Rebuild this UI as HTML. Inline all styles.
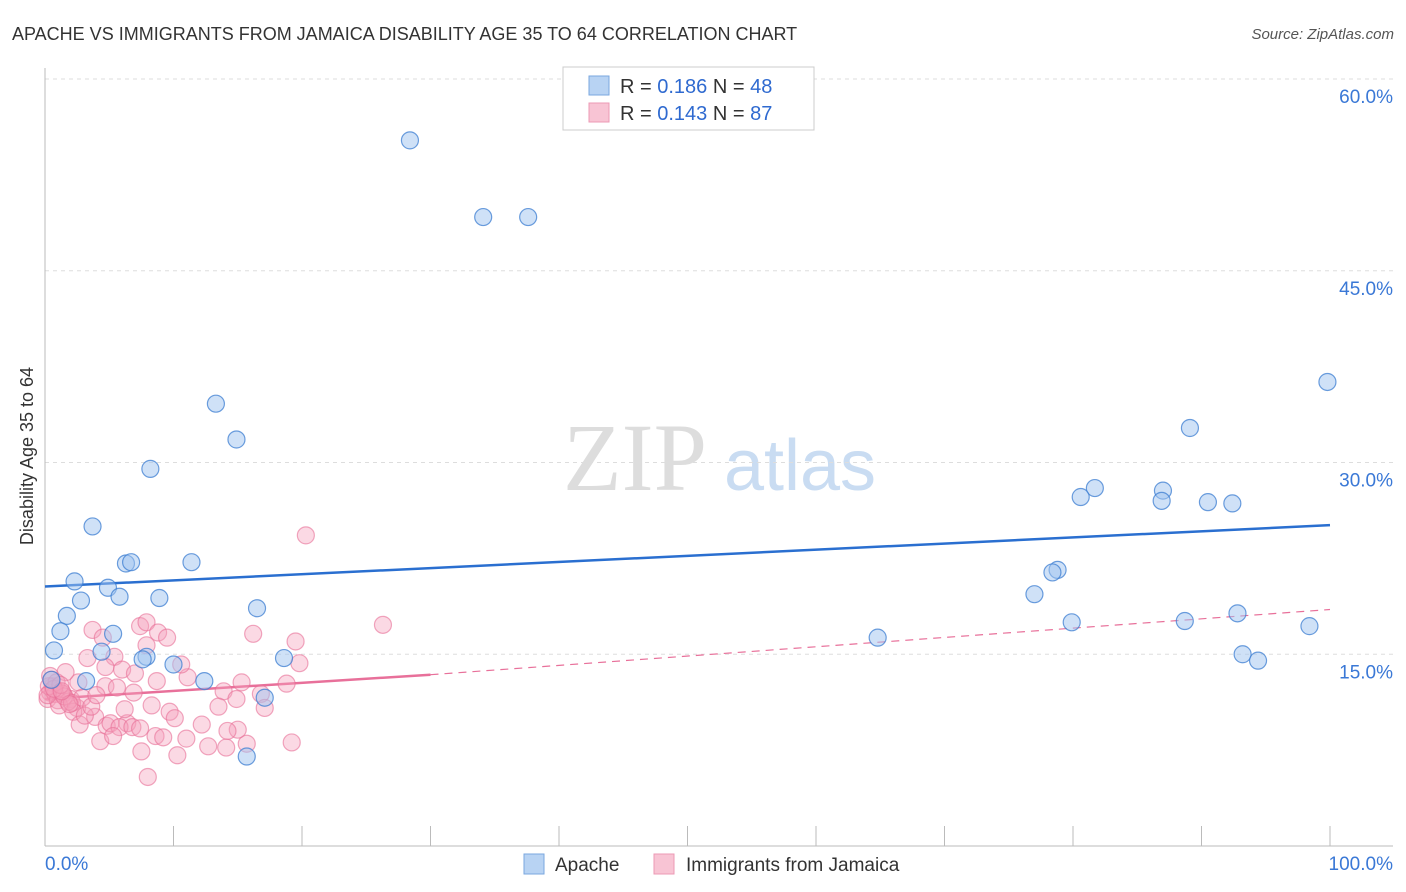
<!DOCTYPE html>
<html><head><meta charset="utf-8"><style>
body{margin:0;background:#fff;font-family:"Liberation Sans",sans-serif}
svg{display:block}
</style></head><body>
<svg id="chart" width="1406" height="892">
<text x="12" y="40" font-size="18" fill="#333">APACHE VS IMMIGRANTS FROM JAMAICA DISABILITY AGE 35 TO 64 CORRELATION CHART</text>
<text x="1394" y="39" font-size="15" fill="#555" font-style="italic" text-anchor="end">Source: ZipAtlas.com</text>
<text transform="translate(33,456) rotate(-90)" font-size="18" fill="#333" text-anchor="middle">Disability Age 35 to 64</text>
<g><text x="635" y="490" font-size="96" font-family="Liberation Serif" fill="#ddd" text-anchor="middle">ZIP</text><text x="800" y="490" font-size="72" fill="#c9dcf2" text-anchor="middle">atlas</text></g>
<g id="grid"></g><g id="axes"></g><g id="trend"></g><g id="pts"></g>
<g>
<rect x="563" y="67" width="251" height="63" fill="#fff" stroke="#ccc"/>
<rect x="589" y="76" width="20" height="19" fill="#b8d3f3" stroke="#7aa7df"/>
<rect x="589" y="103" width="20" height="19" fill="#f8c4d4" stroke="#ec9ab5"/>
<text x="620" y="93" font-size="20" fill="#333">R = <tspan fill="#2f6ad0">0.186</tspan>   N = <tspan fill="#2f6ad0">48</tspan></text>
<text x="620" y="120" font-size="20" fill="#333">R = <tspan fill="#2f6ad0">0.143</tspan>   N = <tspan fill="#2f6ad0">87</tspan></text>
</g>
<g>
<rect x="524" y="854" width="20" height="20" fill="#b8d3f3" stroke="#7aa7df"/>
<text x="555" y="871" font-size="19" fill="#333">Apache</text>
<rect x="654" y="854" width="20" height="20" fill="#f8c4d4" stroke="#ec9ab5"/>
<text x="686" y="871" font-size="19" fill="#333">Immigrants from Jamaica</text>
</g>
</svg>
<script>
const yTicks=[15,30,45,60];
const xTickLabels=["0.0%","100.0%"];
const blueX=[28.4,34.1,37.6,13.3,14.9,8.2,3.7,6.3,6.7,11.4,2.3,4.9,2.8,5.8,8.9,1.7,16.5,1.2,5.3,0.7,4.4,7.9,7.6,10.0,12.4,18.6,17.1,15.7,3.2,99.8,89.1,81.7,80.6,87.0,86.9,90.5,92.4,78.8,78.4,77.0,79.9,64.8,88.7,92.8,98.4,93.2,94.4,0.5];
const blueY=[55.2,49.2,49.2,34.6,31.8,29.5,25.0,22.1,22.2,22.2,20.7,20.2,19.2,19.5,19.4,18.0,18.6,16.8,16.6,15.3,15.2,14.8,14.6,14.2,12.9,14.7,11.6,7.0,12.9,36.3,32.7,28.0,27.3,27.8,27.0,26.9,26.8,21.6,21.4,19.7,17.5,16.3,17.6,18.2,17.2,15.0,14.5,13.0];
const pinkX=[20.3,16.2,19.5,19.8,18.8,19.2,15.7,15.0,14.2,14.1,12.7,10.3,11.0,8.0,7.5,9.7,8.7,11.1,10.6,13.9,15.3,14.9,16.8,17.1,3.7,4.5,7.4,7.9,8.8,9.5,7.9,3.3,5.4,4.7,6.0,7.0,4.7,5.6,6.9,2.6,1.6,0.6,0.4,1.2,2.0,2.5,2.2,2.7,3.9,4.8,6.4,5.1,5.8,6.8,7.4,8.6,9.2,4.3,5.3,0.4,0.2,0.6,0.8,1.0,1.4,1.8,0.3,0.9,1.1,1.5,2.1,2.9,3.1,3.6,26.3,0.2,0.7,1.2,1.9,4.0,6.2,8.3,10.1,12.2,13.5,0.5,1.3];
const pinkY=[24.3,16.6,16.0,14.3,12.7,8.1,8.0,9.1,9.0,7.7,7.8,7.1,8.4,5.4,7.4,10.5,12.9,13.2,14.2,12.1,12.8,11.5,11.9,10.8,16.9,16.3,17.2,17.5,16.7,16.3,15.7,14.7,14.8,14.0,13.8,13.5,12.5,12.4,12.0,12.8,13.6,12.5,13.3,12.0,11.5,10.8,10.5,9.5,10.1,9.4,9.6,9.6,9.3,9.3,9.2,8.6,8.5,8.2,8.6,12.0,11.5,12.2,11.9,11.4,11.9,11.3,12.5,12.8,11.0,11.7,11.2,11.6,10.2,10.9,17.3,11.8,12.3,12.6,11.1,11.8,10.7,11.0,10.0,9.5,10.9,13.0,12.1];
const X0=45,X1=1330,Y0=846,Y60=79;
const sx=v=>X0+(X1-X0)*v/100, sy=v=>Y0-(Y0-Y60)*v/60;
const NS="http://www.w3.org/2000/svg";
function mk(t,a,p){const e=document.createElementNS(NS,t);for(const k in a)e.setAttribute(k,a[k]);p.appendChild(e);return e;}
const grid=document.getElementById('grid'),axes=document.getElementById('axes'),tr=document.getElementById('trend'),pts=document.getElementById('pts');
yTicks.forEach(v=>{const l=mk('line',{x1:45,x2:1393,y1:sy(v),y2:sy(v),stroke:'#ddd','stroke-dasharray':'4,4'},grid);


const t=mk('text',{x:1393,y:sy(v)+24,'font-size':19,fill:'#3a78d6','text-anchor':'end'},grid);t.textContent=v.toFixed(1)+'%';

});
const ax=mk('line',{x1:45,x2:45,y1:68,y2:846,stroke:'#bbb'},axes);


const bx=mk('line',{x1:45,x2:1393,y1:846,y2:846,stroke:'#bbb'},axes);


for(let i=0;i<=10;i++){const l=mk('line',{x1:sx(i*10),x2:sx(i*10),y1:826,y2:846,stroke:'#bbb'},axes);

}
[[0,'start',45],[1,'end',1393]].forEach(([i,a,x])=>{const t=mk('text',{x:x,y:870,'font-size':19,fill:'#3a78d6','text-anchor':a},axes);t.textContent=xTickLabels[i];

});
function dots(xs,ys,fill,stroke,name){xs.forEach((x,i)=>{const c=mk('circle',{cx:sx(x),cy:sy(ys[i]),r:8.5,fill:fill,stroke:stroke,'stroke-width':1.2},pts);

});}
dots(pinkX,pinkY,'rgba(244,160,188,0.4)','rgba(232,110,150,0.6)','jamaica-point');
dots(blueX,blueY,'rgba(160,196,240,0.5)','rgba(60,125,210,0.75)','apache-point');
const b=mk('line',{x1:sx(0),y1:sy(20.3),x2:sx(100),y2:sy(25.1),stroke:'#2a6fd0','stroke-width':2.5},tr);


const p=mk('line',{x1:sx(0),y1:sy(11.5),x2:sx(30),y2:sy(13.4),stroke:'#e8709a','stroke-width':2.5},tr);


const pd=mk('line',{x1:sx(30),y1:sy(13.4),x2:sx(100),y2:sy(18.5),stroke:'#e8709a','stroke-width':1.2,'stroke-dasharray':'8,6'},tr);


</script>
</body></html>
